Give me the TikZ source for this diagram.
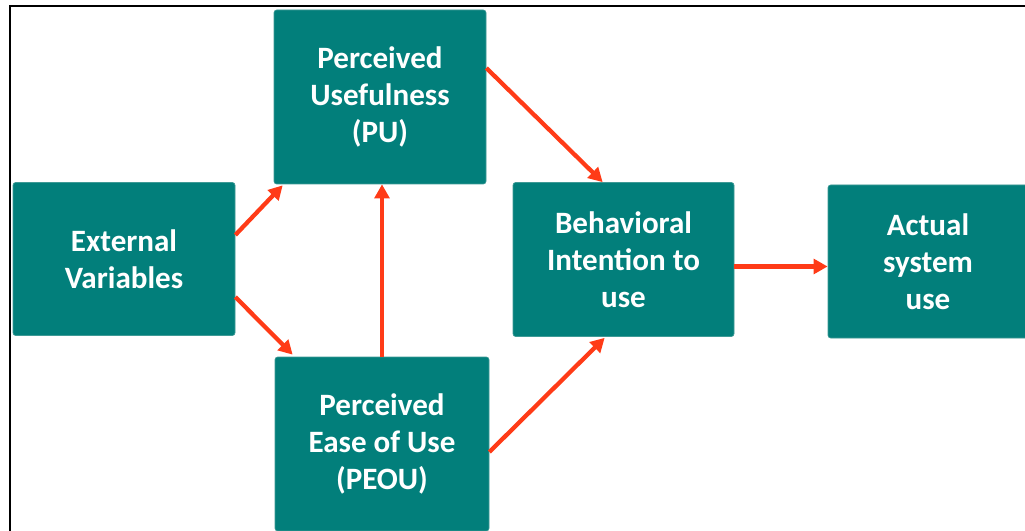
\documentclass[tikz,border=0pt]{standalone}
\usepackage{fontspec}
\setmainfont{Carlito}
\usetikzlibrary{calc,arrows.meta}
\definecolor{tealBox}{HTML}{027F7B}
\definecolor{tealEdge}{HTML}{3E9A96}
\definecolor{arrowRed}{HTML}{FF3B17}
\tikzset{
  tamBox/.style={fill=tealBox, draw=tealEdge, line width=0.5pt, rounded corners=2pt,
    text=white, align=center, inner sep=0pt,
    font=\bfseries\fontsize{23.3}{27.75}\selectfont},
  tamArrow/.style={draw=arrowRed, line width=3.2pt, -{Triangle[length=10.5pt,width=11pt]}},
  tamFrame/.style={draw=black, line width=1.5pt}
}

\begin{document}
\begin{tikzpicture}[x=0.75pt, y=-0.75pt]
  \useasboundingbox (0,0) rectangle (1025,531);
  \clip (0,0) rectangle (1025,531);
  \fill[white] (0,0) rectangle (1025,531);
  \draw[tamFrame] (9.5,540) -- (9.5,6.5) -- (1040,6.5);

  \node[tamBox, minimum width=159pt, minimum height=130.5pt] (pu) at (380,97)
    {Perceived\\Usefulness\\(PU)};
  \node[tamBox, minimum width=166.5pt, minimum height=114.75pt] (ext) at (124,259)
    {External\\Variables};
  \node[tamBox, minimum width=160.5pt, minimum height=130.5pt] (peou) at (382,444)
    {Perceived\\Ease of Use\\(PEOU)};
  \node[tamBox, minimum width=165.75pt, minimum height=115.5pt] (bi) at (623.5,259.5)
    {Behavioral\\Intention to\\use};
  \node[tamBox, minimum width=150pt, minimum height=114.75pt] (act) at (928,261.5)
    {Actual\\system\\use};

  \draw[tamArrow] ($(ext.east)+(0,-24)$) -- ($(pu.south west)+(9,1)$);
  \draw[tamArrow] ($(ext.east)+(0,38)$) -- ($(peou.north west)+(18,-2)$);
  \draw[tamArrow] (peou.north) -- (peou.north |- pu.south);
  \draw[tamArrow] ($(pu.east)+(0,-29)$) -- ($(bi.north west)+(90,0)$);
  \draw[tamArrow] ($(peou.east)+(0,8)$) -- ($(bi.south west)+(92,1)$);
  \coordinate (biOut) at ($(bi.east)+(0,7)$);
  \draw[tamArrow] (biOut) -- (biOut -| act.west);
\end{tikzpicture}
\end{document}
